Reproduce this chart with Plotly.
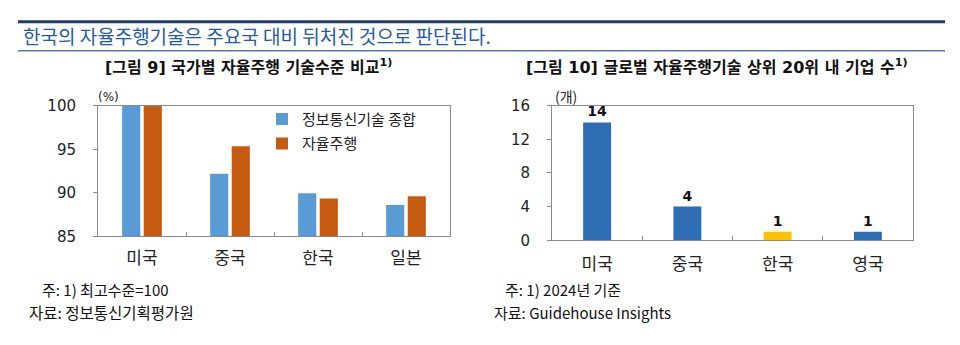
import plotly.graph_objects as go

W, H = 960, 345

# ---- data ----
countries_left = ["미국", "중국", "한국", "일본"]
ict_total = [100, 92.2, 89.95, 88.6]
autonomous = [100, 95.35, 89.35, 89.6]
series_names = ["정보통신기술 종합", "자율주행"]
left_yticks = [85, 90, 95, 100]

countries_right = ["미국", "중국", "한국", "영국"]
firm_counts = [14, 4, 1, 1]
right_yticks = [0, 4, 8, 12, 16]

headline = "한국의 자율주행기술은 주요국 대비 뒤처진 것으로 판단된다."
title_left = "[그림 9] 국가별 자율주행 기술수준 비교<sup>1)</sup>"
title_right = "[그림 10] 글로벌 자율주행기술 상위 20위 내 기업 수<sup>1)</sup>"
note_left = ["주: 1) 최고수준=100", "자료: 정보통신기획평가원"]
note_right = ["주: 1) 2024년 기준", "자료: Guidehouse Insights"]

FONT = "Noto Sans CJK KR"
WIDE = "DejaVu Sans, Noto Sans CJK KR"
px = lambda x: x / W
py = lambda y: (H - y) / H

fig = go.Figure()
fig.add_trace(go.Bar(x=countries_left, y=ict_total, name=series_names[0],
                     marker=dict(color="#5b9bd5", line=dict(width=0)),
                     xaxis="x", yaxis="y", legendgroup="a"))
fig.add_trace(go.Bar(x=countries_left, y=autonomous, name=series_names[1],
                     marker=dict(color="#c55a11", line=dict(width=0)),
                     xaxis="x", yaxis="y", legendgroup="b"))
bar_colors = ["#2e6db4", "#2e6db4", "#ffc000", "#2e6db4"]
fig.add_trace(go.Bar(x=countries_right, y=firm_counts, width=0.31,
                     marker=dict(color=bar_colors, line=dict(width=0)),
                     text=[str(v) for v in firm_counts], textposition="outside",
                     textfont=dict(family="DejaVu Sans", size=14, color="#111"),
                     texttemplate="<b>%{text}</b>", cliponaxis=False,
                     showlegend=False, xaxis="x2", yaxis="y2"))

axis_common = dict(showline=True, linecolor="#8a8a8a", linewidth=1, mirror=True,
                   showgrid=False, zeroline=False)

fig.update_layout(
    width=W, height=H, margin=dict(l=0, r=0, t=0, b=0),
    paper_bgcolor="white", plot_bgcolor="white",
    font=dict(family=FONT, color="#222"),
    barmode="group", bargap=0.51, bargroupgap=0.16,
    xaxis=dict(domain=[px(98), px(450)], anchor="y", **axis_common,
               ticks="inside", tickson="boundaries", ticklen=4, tickcolor="#8a8a8a",
               tickfont=dict(size=17, color="#222"), ticklabelstandoff=6),
    yaxis=dict(domain=[py(240), py(102)], anchor="x", range=[85, 100],
               tickvals=left_yticks, **axis_common, ticks="outside", ticklen=4,
               tickcolor="#8a8a8a", tickfont=dict(family="DejaVu Sans", size=15, color="#222"),
               ticklabelstandoff=14),
    xaxis2=dict(domain=[px(552), px(913)], anchor="y2", **axis_common,
                ticks="inside", tickson="boundaries", ticklen=4, tickcolor="#8a8a8a",
                tickfont=dict(size=17, color="#222"), ticklabelstandoff=8),
    yaxis2=dict(domain=[py(244), py(102)], anchor="x2", range=[0, 16],
                tickvals=right_yticks, **axis_common, ticks="outside", ticklen=4,
                tickcolor="#8a8a8a", tickfont=dict(family="DejaVu Sans", size=15, color="#222"),
                ticklabelstandoff=14),
    legend=dict(x=px(262), y=py(99), xanchor="left", yanchor="top",
                font=dict(size=15, color="#222"), bgcolor="rgba(0,0,0,0)",
                traceorder="grouped", tracegroupgap=2, itemwidth=30),
)

shapes = [
    dict(type="line", xref="paper", yref="paper", x0=px(18), x1=px(945), y0=py(13.5), y1=py(13.5),
         line=dict(color="#1f3d6b", width=3)),
    dict(type="line", xref="paper", yref="paper", x0=px(18), x1=px(945), y0=py(44), y1=py(44),
         line=dict(color="#5576a0", width=1.5)),
]
fig.update_layout(shapes=shapes)

ann = []
ann.append(dict(text=headline, x=px(21), y=py(28), xanchor="left", yanchor="middle",
                font=dict(size=19, color="#1f5aa6")))
ann.append(dict(text="<b>" + title_left + "</b>", x=px(248), y=py(61), xanchor="center", yanchor="middle",
                font=dict(family=WIDE, size=16, color="#111")))
ann.append(dict(text="<b>" + title_right + "</b>", x=px(717), y=py(61), xanchor="center", yanchor="middle",
                font=dict(family=WIDE, size=16, color="#111")))
ann.append(dict(text="(%)", x=px(96), y=py(93), xanchor="left", yanchor="middle",
                font=dict(family="DejaVu Sans", size=12, color="#222")))
ann.append(dict(text="(개)", x=px(553), y=py(92), xanchor="left", yanchor="middle",
                font=dict(size=14, color="#222")))
ann.append(dict(text=note_left[0], x=px(40), y=py(296), xanchor="left", yanchor="middle",
                font=dict(size=15, color="#111")))
ann.append(dict(text=note_left[1], x=px(27), y=py(320), xanchor="left", yanchor="middle",
                font=dict(size=15.5, color="#111")))
ann.append(dict(text=note_right[0], x=px(503), y=py(296), xanchor="left", yanchor="middle",
                font=dict(size=15, color="#111")))
ann.append(dict(text=note_right[1], x=px(492), y=py(320), xanchor="left", yanchor="middle",
                font=dict(size=15, color="#111")))
for a in ann:
    a.update(xref="paper", yref="paper", showarrow=False)
fig.update_layout(annotations=ann)

fig.write_html("out.html")
